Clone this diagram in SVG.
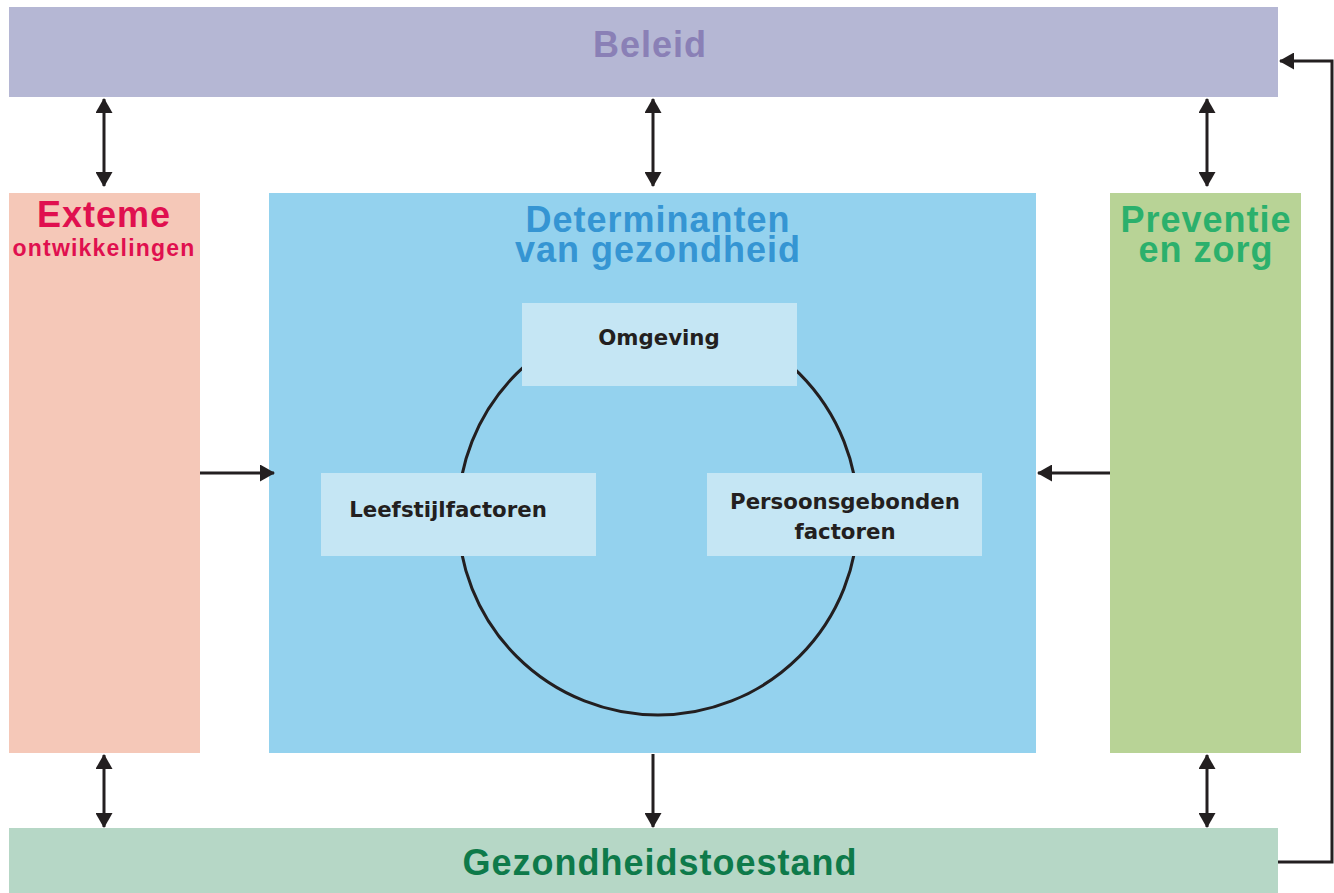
<svg xmlns="http://www.w3.org/2000/svg" width="1334" height="893" viewBox="0 0 1334 893">
<defs>
<marker id="ah" viewBox="0 0 15 17" refX="14" refY="8.5" markerWidth="15" markerHeight="17" orient="auto-start-reverse" markerUnits="userSpaceOnUse">
<path d="M0,0 L15,8.5 L0,17 Z" fill="#231f20"/>
</marker>
</defs>
<style>
text{font-family:"Liberation Sans",Arial,sans-serif;font-weight:bold;text-anchor:middle}
.t{font-size:36px;letter-spacing:1px}
.s{font-family:"DejaVu Sans","Liberation Sans",sans-serif;font-size:21.3px;fill:#231f20}
.ln{stroke:#231f20;stroke-width:3;fill:none}
.ar{marker-end:url(#ah)}
.ab{marker-start:url(#ah);marker-end:url(#ah)}
</style>
<rect width="1334" height="893" fill="#ffffff"/>
<g id="beleid">
<rect x="9" y="7" width="1269" height="90" fill="#b5b7d4"/>
<text class="t" x="650" y="57" fill="#8a80b6">Beleid</text>
</g>
<g id="externe">
<rect x="9" y="193" width="191" height="560" fill="#f5c8b8"/>
<text fill="#e0104f"><tspan class="t" x="104" y="227">Exteme</tspan><tspan x="104" y="256" style="font-size:23px;letter-spacing:1.2px">ontwikkelingen</tspan></text>
</g>
<g id="determinanten">
<rect x="269" y="193" width="767" height="560" fill="#94d2ee"/>
<text class="t" fill="#3595d3"><tspan x="658" y="232">Determinanten</tspan><tspan x="658" y="262">van gezondheid</tspan></text>
<circle cx="658" cy="515" r="200" class="ln" stroke-width="2.5"/>
</g>
<g id="omgeving">
<rect x="522" y="303" width="275" height="83" fill="#c5e6f4"/>
<text class="s" x="659" y="345">Omgeving</text>
</g>
<g id="leefstijl">
<rect x="321" y="473" width="275" height="83" fill="#c5e6f4"/>
<text class="s" x="448" y="517">Leefstijlfactoren</text>
</g>
<g id="persoons">
<rect x="707" y="473" width="275" height="83" fill="#c5e6f4"/>
<text class="s"><tspan x="845" y="509">Persoonsgebonden</tspan><tspan x="845" y="539">factoren</tspan></text>
</g>
<g id="preventie">
<rect x="1110" y="193" width="191" height="560" fill="#b8d396"/>
<text class="t" fill="#2bb06c"><tspan x="1206" y="232">Preventie</tspan><tspan x="1206" y="262">en zorg</tspan></text>
</g>
<g id="gezondheidstoestand">
<rect x="9" y="828" width="1269" height="65" fill="#b6d7c6"/>
<text class="t" x="660" y="875" fill="#0e7a4a">Gezondheidstoestand</text>
</g>
<g id="connectors">
<line class="ln ab" x1="104" y1="99" x2="104" y2="186"/>
<line class="ln ab" x1="653" y1="99" x2="653" y2="186"/>
<line class="ln ab" x1="1207" y1="99" x2="1207" y2="186"/>
<line class="ln ab" x1="104" y1="755" x2="104" y2="827"/>
<line class="ln ar" x1="653" y1="754" x2="653" y2="827"/>
<line class="ln ab" x1="1207" y1="755" x2="1207" y2="827"/>
<line class="ln ar" x1="200" y1="473" x2="274" y2="473"/>
<line class="ln ar" x1="1110" y1="473" x2="1038" y2="473"/>
<polyline class="ln ar" points="1278,862 1332,862 1332,61 1280,61"/>
</g>
</svg>
